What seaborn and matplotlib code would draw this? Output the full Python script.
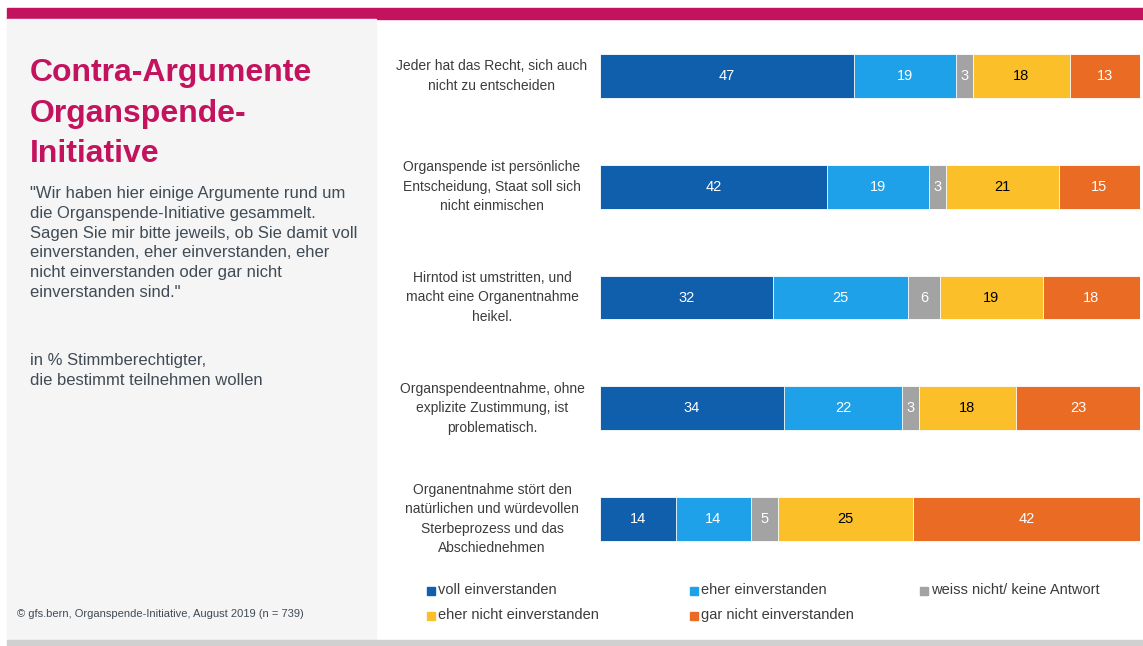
import numpy as np
import pandas as pd
import matplotlib
matplotlib.use('Agg')
import matplotlib.pyplot as plt
from matplotlib.patches import Rectangle
import seaborn as sns

# Daten
statements = [
    'Jeder hat das Recht, sich auch\nnicht zu entscheiden',
    'Organspende ist persönliche\nEntscheidung, Staat soll sich\nnicht einmischen',
    'Hirntod ist umstritten, und\nmacht eine Organentnahme\nheikel.',
    'Organspendeentnahme, ohne\nexplizite Zustimmung, ist\nproblematisch.',
    'Organentnahme stört den\nnatürlichen und würdevollen\nSterbeprozess und das\nAbschiednehmen',
]
voll = [47, 42, 32, 34, 14]
eher = [19, 19, 25, 22, 14]
weiss = [3, 3, 6, 3, 5]
eher_nicht = [18, 21, 19, 18, 25]
gar_nicht = [13, 15, 18, 23, 42]

antworten = ['voll einverstanden', 'eher einverstanden', 'weiss nicht/ keine Antwort',
             'eher nicht einverstanden', 'gar nicht einverstanden']
farben = ['#0F5FAD', '#1FA1E9', '#A3A3A3', '#FBBF2A', '#E96B24']
textfarben = ['white', 'white', 'white', 'black', 'white']

df = pd.DataFrame({'statement': statements})
werte = [voll, eher, weiss, eher_nicht, gar_nicht]
for name, w in zip(antworten, werte):
    df[name] = w
cum = df[antworten].cumsum(axis=1)

sns.set_theme(style='white')
plt.rcParams['font.family'] = ['Liberation Sans', 'DejaVu Sans']

W, H = 1143, 646
fig = plt.figure(figsize=(W / 100, H / 100), dpi=100)

def px(x, y):
    return x / W, 1 - y / H

# Hintergrund / Rahmen
fig.patches.append(Rectangle((7 / W, 1 - 19 / H), (W - 7) / W, 11 / H,
                             transform=fig.transFigure, color='#C4135E', zorder=0))
fig.patches.append(Rectangle((7 / W, 1 - 640 / H), 369 / W, 621 / H,
                             transform=fig.transFigure, color='#F5F5F5', zorder=0))
fig.patches.append(Rectangle((7 / W, 0), (W - 7) / W, 6 / H,
                             transform=fig.transFigure, color='#D0D0D0', zorder=0))

# Linker Text
txt = '#404B55'
fig.text(*px(30, 58), 'Contra-Argumente\nOrganspende-\nInitiative', color='#C4135E',
         fontsize=23, fontweight='bold', va='top', ha='left', linespacing=1.46)
fig.text(*px(30, 186), '"Wir haben hier einige Argumente rund um\ndie Organspende-Initiative gesammelt.\n'
         'Sagen Sie mir bitte jeweils, ob Sie damit voll\neinverstanden, eher einverstanden, eher\n'
         'nicht einverstanden oder gar nicht\neinverstanden sind."',
         color=txt, fontsize=12, va='top', ha='left', linespacing=1.4)
fig.text(*px(30, 353), 'in % Stimmberechtigter,\ndie bestimmt teilnehmen wollen',
         color=txt, fontsize=12, va='top', ha='left', linespacing=1.4)
fig.text(*px(17, 614), '© gfs.bern, Organspende-Initiative, August 2019 (n = 739)',
         color=txt, fontsize=8, va='center', ha='left')

# Balken
ax = fig.add_axes([600 / W, 1 - 574.4 / H, 540 / W, 553.8 / H])
ax.set_facecolor('none')
for name, farbe in reversed(list(zip(antworten, farben))):
    sns.barplot(x=cum[name], y=df['statement'], orient='h', color=farbe, width=0.397,
                saturation=1, edgecolor='white', linewidth=0.6, ax=ax)

for i, row in df.iterrows():
    left = 0
    for name, tc in zip(antworten, textfarben):
        v = row[name]
        ax.text(left + v / 2, i, str(v), ha='center', va='center', color=tc, fontsize=10.5)
        left += v
    ax.text(-20, i, row['statement'], ha='center', va='center', color='#3C3C3C',
            fontsize=10, linespacing=1.5, clip_on=False)

ax.set_xlim(0, 100)
ax.set_ylim(4.5, -0.5)
ax.set_xticks([])
ax.set_yticks([])
ax.set_xlabel('')
ax.set_ylabel('')
sns.despine(ax=ax, left=True, bottom=True)

# Legende
leg_pos = [(427, 590), (690, 590), (920, 590), (427, 615), (690, 615)]
for (lx, ly), name, farbe in zip(leg_pos, antworten, farben):
    fig.patches.append(Rectangle(((lx) / W, 1 - (ly + 4.5) / H), 8 / W, 8 / H,
                                 transform=fig.transFigure, color=farbe))
    fig.text(*px(lx + 11, ly), name, color='#3C3C3C', fontsize=10.5, va='center', ha='left')

fig.savefig('out.png', dpi=100)
